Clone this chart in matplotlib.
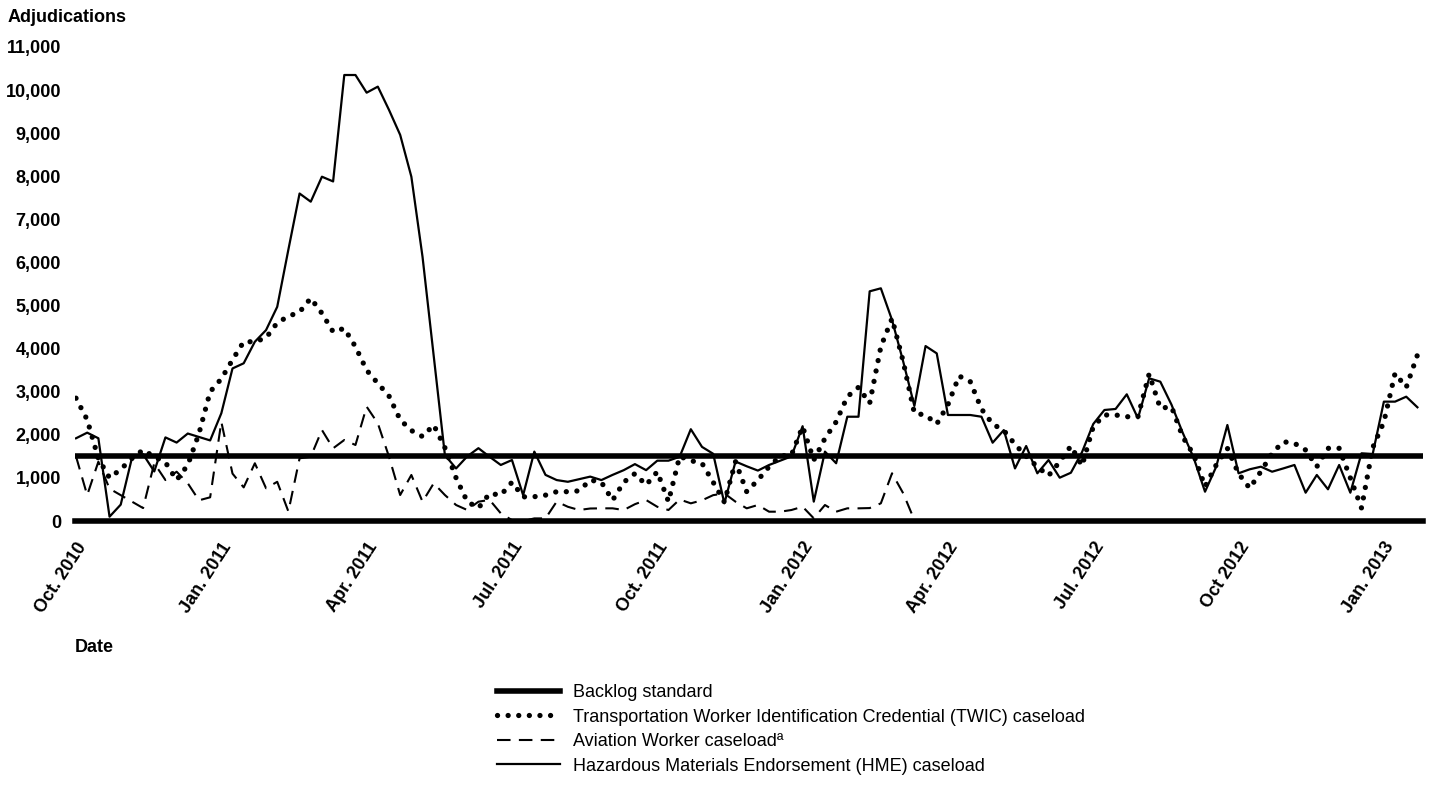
import matplotlib.pyplot as plt

# Fonts: Arial-like
plt.rcParams['font.family'] = ['Liberation Sans', 'DejaVu Sans']

# Weekly caseload data, Oct. 2010 - Jan. 2013 (week index)
weeks = list(range(121))
tick_weeks = [0, 13, 26, 39, 52, 65, 78, 91, 104, 117]
tick_labels = ['Oct. 2010', 'Jan. 2011', 'Apr. 2011', 'Jul. 2011', 'Oct. 2011',
               'Jan. 2012', 'Apr. 2012', 'Jul. 2012', 'Oct 2012', 'Jan. 2013']
y_ticks = list(range(0, 11001, 1000))
backlog_standard = 1500

hme = [1920, 2050, 1920, 100, 380, 1460, 1550, 1150, 1940, 1820,
       2030, 1950, 1870, 2500, 3540, 3660, 4160, 4430, 4970, 6300,
       7600, 7410, 7990, 7880, 10350, 10350, 9940, 10080, 9540, 8960,
       7990, 6130, 3830, 1530, 1220, 1500, 1690, 1490, 1300, 1415,
       600, 1610, 1070, 950, 910, 970, 1030, 950, 1070, 1180,
       1320, 1180, 1400, 1400, 1490, 2130, 1720, 1560, 410, 1380,
       1270, 1170, 1300, 1400, 1500, 2200, 450, 1610, 1340, 2420,
       2420, 5330, 5400, 4665, 3700, 2670, 4060, 3890, 2460, 2460,
       2460, 2420, 1817, 2110, 1220, 1740, 1107, 1415, 1005, 1120,
       1600, 2250, 2576, 2600, 2940, 2383, 3311, 3233, 2700, 2050,
       1455, 680, 1260, 2228, 1107, 1200, 1260, 1144, 1220, 1300,
       657, 1068, 736, 1300, 657, 1571, 1555, 2770, 2770, 2885,
       2639]

twic = [2850, 2350, 1450, 1000, 1200, 1450, 1650, 1490, 1360, 950,
        1300, 2030, 3000, 3300, 3740, 4160, 4160, 4250, 4600, 4750,
        4850, 5170, 4820, 4390, 4470, 4045, 3500, 3195, 2900, 2350,
        2100, 1960, 2228, 1700, 1000, 450, 300, 640, 600, 900,
        560, 564, 600, 680, 680, 700, 950, 900, 480, 900,
        1100, 835, 1144, 450, 1500, 1400, 1340, 900, 440, 1376,
        680, 950, 1260, 1508, 1530, 2190, 1415, 1917, 2300, 2885,
        3103, 2731, 4045, 4700, 3700, 2500, 2460, 2250, 2700, 3365,
        3233, 2600, 2250, 2100, 1780, 1500, 1260, 1050, 1376, 1740,
        1280, 2190, 2460, 2460, 2420, 2420, 3411, 2615, 2653, 1956,
        1530, 800, 1300, 1687, 1100, 760, 1150, 1571, 1840, 1803,
        1648, 1260, 1687, 1687, 1000, 300, 1700, 2300, 3427, 3100,
        3852]

aviation = [1500, 600, 1376, 750, 600, 450, 300, 1340, 950, 1144,
            875, 480, 550, 2300, 1100, 780, 1340, 760, 910, 220,
            1455, 1492, 2112, 1687, 1880, 1764, 2653, 2267, 1492, 603,
            1068, 448, 875, 603, 371, 255, 448, 490, 178, 20,
            0, 60, 60, 450, 330, 255, 290, 294, 294, 255,
            390, 487, 330, 255, 500, 410, 480, 600, 640, 448,
            294, 371, 216, 216, 255, 332, 62, 371, 216, 294,
            294, 300, 410, 1107, 643, 20]

fig = plt.figure(figsize=(14.39, 7.93), dpi=100)
ax = fig.add_axes([75 / 1439, 1 - 521 / 793, 1348 / 1439, 474 / 793])

# Backlog standard and the zero line
backlog_line = ax.axhline(backlog_standard, color='black', lw=4, zorder=3)
ax.axhline(0, color='black', lw=4, clip_on=False, zorder=3)

twic_line, = ax.plot(weeks, twic, color='black', lw=3.8,
                     linestyle=(0, (0.01, 2.0)), dash_capstyle='round')
aviation_line, = ax.plot(weeks[:len(aviation)], aviation, color='black', lw=1.5,
                         linestyle=(0, (6.5, 4)))
hme_line, = ax.plot(weeks, hme, color='black', lw=1.6)

ax.set_xlim(-0.09, 120.5)
ax.set_ylim(0, 11000)
for s in ax.spines.values():
    s.set_visible(False)

ax.set_xticks(tick_weeks)
ax.set_xticklabels(tick_labels, rotation=57, ha='right', va='top',
                   rotation_mode='anchor', fontweight='bold', fontsize=13)
ax.set_yticks(y_ticks)
ax.set_yticklabels(['{:,}'.format(v) for v in y_ticks], fontweight='bold', fontsize=13)
ax.tick_params(axis='x', length=0, pad=13)
ax.tick_params(axis='y', length=0, pad=10)

fig.text(8 / 1439, 1 - 18 / 793, 'Adjudications', fontweight='bold', fontsize=13,
         ha='left', va='center')
fig.text(75 / 1439, 1 - 648 / 793, 'Date', fontweight='bold', fontsize=13,
         ha='left', va='center')

# Legend below the chart
handles = [backlog_line, twic_line, aviation_line, hme_line]
labels = ['Backlog standard',
          'Transportation Worker Identification Credential (TWIC) caseload',
          'Aviation Worker caseload\u00aa',
          'Hazardous Materials Endorsement (HME) caseload']
fig.legend(handles, labels, loc='upper left', bbox_to_anchor=(497 / 1439, 1 - 684 / 793),
           frameon=False, fontsize=13, handlelength=3.5, handletextpad=0.7,
           labelspacing=0.42, borderpad=0, borderaxespad=0)

fig.savefig('out.png', dpi=100)
